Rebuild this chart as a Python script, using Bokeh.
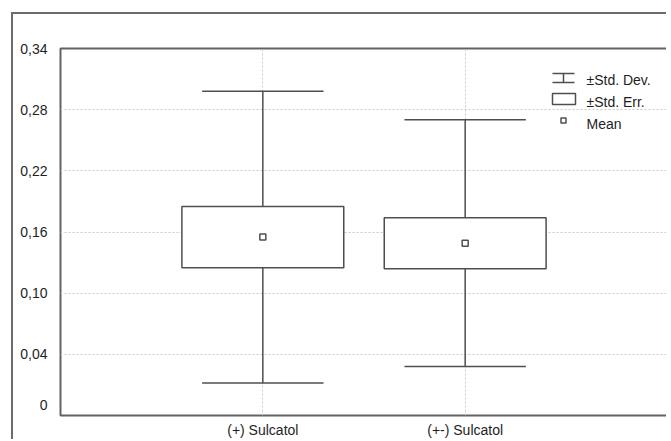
from bokeh.plotting import figure
from bokeh.models import (FactorRange, Range1d, FixedTicker, ColumnDataSource,
                          Label, Arrow, BoxAnnotation)
from bokeh.transform import dodge
from bokeh.embed import file_html
from bokeh.resources import INLINE

# ---- data ----
categories = ["(+) Sulcatol", "(+-) Sulcatol"]
means = [0.155, 0.149]
std_errs = [0.030, 0.025]
std_devs = [0.143, 0.121]
y_tick_values = [-0.01, 0.04, 0.10, 0.16, 0.22, 0.28, 0.34]
y_tick_labels = ["0", "0,04", "0,10", "0,16", "0,22", "0,28", "0,34"]
grid_values = [0.04, 0.10, 0.16, 0.22, 0.28]
legend_labels = ["\u00b1Std. Dev.", "\u00b1Std. Err.", "Mean"]

LINE = "#4f4f4f"
TEXT = "#1e1e1e"
FONT = "Liberation Sans"
FS = "14px"

src = ColumnDataSource(dict(
    cat=categories,
    mean=means,
    se_lo=[m - s for m, s in zip(means, std_errs)],
    se_hi=[m + s for m, s in zip(means, std_errs)],
    sd_lo=[m - s for m, s in zip(means, std_devs)],
    sd_hi=[m + s for m, s in zip(means, std_devs)],
))

p = figure(width=655, height=427, output_backend="svg", toolbar_location=None,
           x_range=FactorRange(factors=categories, range_padding=0.5,
                               range_padding_units="absolute"),
           y_range=Range1d(-0.02, 0.34),
           min_border_left=47, min_border_top=34, min_border_right=1,
           min_border_bottom=26)
p.styles = {"margin-left": "11px", "margin-top": "12px",
            "border-left": "2px solid #6c6c6c", "border-top": "2px solid #6c6c6c"}

p.background_fill_color = "white"
p.border_fill_color = "white"
p.outline_line_color = "#626262"
p.outline_line_width = 2

# axes
for ax in (p.xaxis[0], p.yaxis[0]):
    ax.axis_line_color = None
    ax.major_tick_line_color = None
    ax.minor_tick_line_color = None
    ax.major_label_text_font = FONT
    ax.major_label_text_font_size = FS
    ax.major_label_text_color = TEXT
p.yaxis.ticker = FixedTicker(ticks=y_tick_values)
p.yaxis.major_label_overrides = {v: l for v, l in zip(y_tick_values, y_tick_labels)}
p.yaxis.major_label_standoff = 7
p.xaxis.major_label_standoff = 0

# grids
p.ygrid.ticker = FixedTicker(ticks=grid_values)
for g in (p.xgrid[0], p.ygrid[0]):
    g.grid_line_color = "#c8c8c8"
    g.grid_line_dash = "2 2"
    g.grid_line_width = 1

# whiskers (std dev)
p.segment(x0="cat", y0="sd_lo", x1="cat", y1="sd_hi", source=src,
          line_color=LINE, line_width=1.5)
for col in ("sd_lo", "sd_hi"):
    p.segment(x0=dodge("cat", -0.3, range=p.x_range), y0=col,
              x1=dodge("cat", 0.3, range=p.x_range), y1=col, source=src,
              line_color=LINE, line_width=1.5)

# boxes (std err)
p.vbar(x="cat", top="se_hi", bottom="se_lo", width=0.8, source=src,
       fill_color="white", line_color=LINE, line_width=1.5)

# means
p.scatter(x="cat", y="mean", marker="square", size=6, source=src,
          fill_color="white", line_color=LINE, line_width=1.5)

# ---- legend (screen units, relative to plot frame) ----
gx0, gx1 = 492, 514
for (xs, ys, xe, ye) in [(gx0, 342, gx1, 342), (gx0, 333, gx1, 333),
                         ((gx0 + gx1) / 2, 342, (gx0 + gx1) / 2, 333)]:
    p.add_layout(Arrow(x_start=xs, y_start=ys, x_end=xe, y_end=ye,
                       start_units="screen", end_units="screen", end=None,
                       start=None, line_color=LINE, line_width=1.5))
p.add_layout(BoxAnnotation(left=gx0, right=gx1 + 1, bottom=311, top=322,
                           left_units="screen", right_units="screen",
                           bottom_units="screen", top_units="screen",
                           fill_color="white", fill_alpha=1,
                           line_color=LINE, line_width=1.5, line_alpha=1))
p.add_layout(BoxAnnotation(left=500.5, right=505.5, bottom=292.5, top=297.5,
                           left_units="screen", right_units="screen",
                           bottom_units="screen", top_units="screen",
                           fill_color="white", fill_alpha=1,
                           line_color=LINE, line_width=1.5, line_alpha=1))
for lab, yy in zip(legend_labels, [336, 314, 292]):
    p.add_layout(Label(x=526, y=yy, x_units="screen", y_units="screen",
                       text=lab, text_font=FONT, text_font_size=FS,
                       text_color=TEXT, text_baseline="middle"))

open("out.html", "w").write(file_html(p, INLINE))
